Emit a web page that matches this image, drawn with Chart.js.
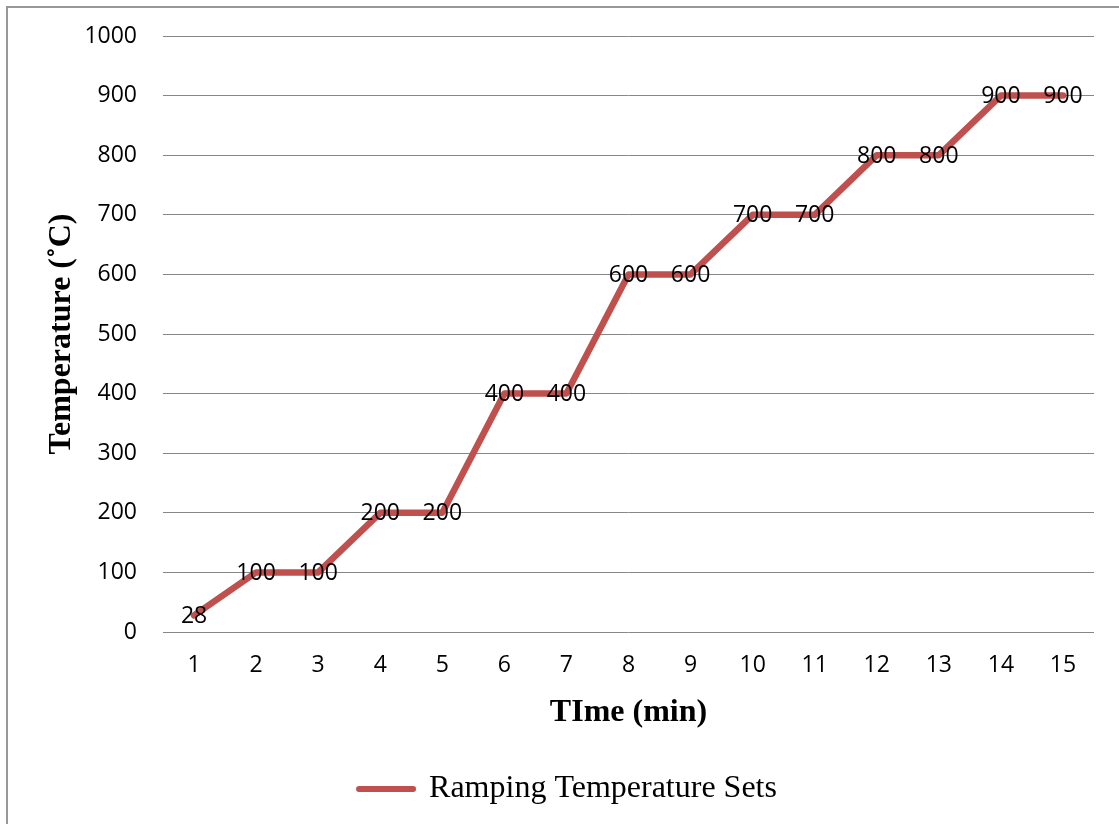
<!DOCTYPE html>
<html>
<head>
<meta charset="utf-8">
<script src="https://cdn.jsdelivr.net/npm/chart.js@4"></script>
<style>
  html, body { margin: 0; padding: 0; background: #ffffff; }
  #wrap { position: relative; width: 1119px; height: 824px; overflow: hidden; }
  #frame { position: absolute; left: 6px; top: 6px; right: -10px; bottom: -10px;
           border-left: 2px solid #989898; border-top: 2px solid #989898; pointer-events: none; }
  canvas { position: absolute; left: 0; top: 0; }
</style>
</head>
<body>
<div id="wrap">
  <canvas id="chart" width="1119" height="824"></canvas>
  <div id="frame"></div>
</div>
<script>
// Time steps (minutes) and the temperature set point at each step
const minutes = ['1','2','3','4','5','6','7','8','9','10','11','12','13','14','15'];
const temperatures = [28, 100, 100, 200, 200, 400, 400, 600, 600, 700, 700, 800, 800, 900, 900];
const seriesName = 'Ramping Temperature Sets';
const yTicks = [0, 100, 200, 300, 400, 500, 600, 700, 800, 900, 1000];

const lineRed = '#C0504D';
const tickFont = { family: '"Open Sans", "DejaVu Sans", sans-serif', size: 23 };
const serif = '"Liberation Serif", "Times New Roman", serif';

// Writes each value centred on its point
const pointValueLabels = {
  id: 'pointValueLabels',
  afterDatasetsDraw(chart) {
    const ctx = chart.ctx;
    const meta = chart.getDatasetMeta(0);
    const data = chart.data.datasets[0].data;
    ctx.save();
    ctx.font = `${tickFont.size}px ${tickFont.family}`;
    ctx.fillStyle = '#000000';
    ctx.textAlign = 'center';
    ctx.textBaseline = 'middle';
    meta.data.forEach((pt, i) => {
      ctx.fillText(String(data[i]), pt.x, pt.y + 1);
    });
    ctx.restore();
  }
};

new Chart(document.getElementById('chart'), {
  type: 'line',
  data: {
    labels: minutes,
    datasets: [{
      label: seriesName,
      data: temperatures,
      borderColor: lineRed,
      backgroundColor: lineRed,
      borderWidth: 6.5,
      borderJoinStyle: 'round',
      borderCapStyle: 'round',
      pointRadius: 0,
      pointHoverRadius: 0,
      tension: 0,
      fill: false
    }]
  },
  options: {
    responsive: false,
    animation: false,
    devicePixelRatio: 1,
    layout: { padding: { top: 36, right: 25, bottom: 9, left: 42 } },
    plugins: {
      tooltip: { enabled: false },
      legend: {
        position: 'bottom',
        labels: {
          usePointStyle: true,
          pointStyleWidth: 54,
          padding: 10,
          color: '#000000',
          font: { family: serif, size: 32 },
          generateLabels: () => [{
            text: seriesName,
            fillStyle: lineRed,
            strokeStyle: lineRed,
            lineWidth: 6,
            lineCap: 'round',
            pointStyle: 'line',
            hidden: false,
            datasetIndex: 0,
            fontColor: '#000000'
          }]
        }
      }
    },
    scales: {
      x: {
        type: 'category',
        offset: true,
        grid: { display: false, drawTicks: false },
        border: { display: false },
        ticks: { color: '#000000', font: tickFont, padding: 20, maxRotation: 0 },
        title: {
          display: true,
          text: 'TIme (min)',
          color: '#000000',
          font: { family: serif, size: 32, weight: 'bold' },
          padding: { top: 4, bottom: 31 }
        },
        afterFit(scale) { scale.height = 131; }
      },
      y: {
        min: 0,
        max: 1000,
        afterBuildTicks(scale) { scale.ticks = yTicks.map(v => ({ value: v })); },
        grid: { color: '#878787', lineWidth: 1, drawTicks: false },
        border: { display: false },
        ticks: { color: '#000000', font: tickFont, padding: 26, callback: (v) => String(v) },
        title: {
          display: true,
          text: 'Temperature (˚C)',
          color: '#000000',
          font: { family: serif, size: 32, weight: 'bold' },
          padding: { top: 1, bottom: 4 }
        },
        afterFit(scale) {
          scale.width = 121;
          scale.paddingTop = 0;
          scale.paddingBottom = 0;
        }
      }
    }
  },
  plugins: [pointValueLabels]
});
</script>
</body>
</html>
